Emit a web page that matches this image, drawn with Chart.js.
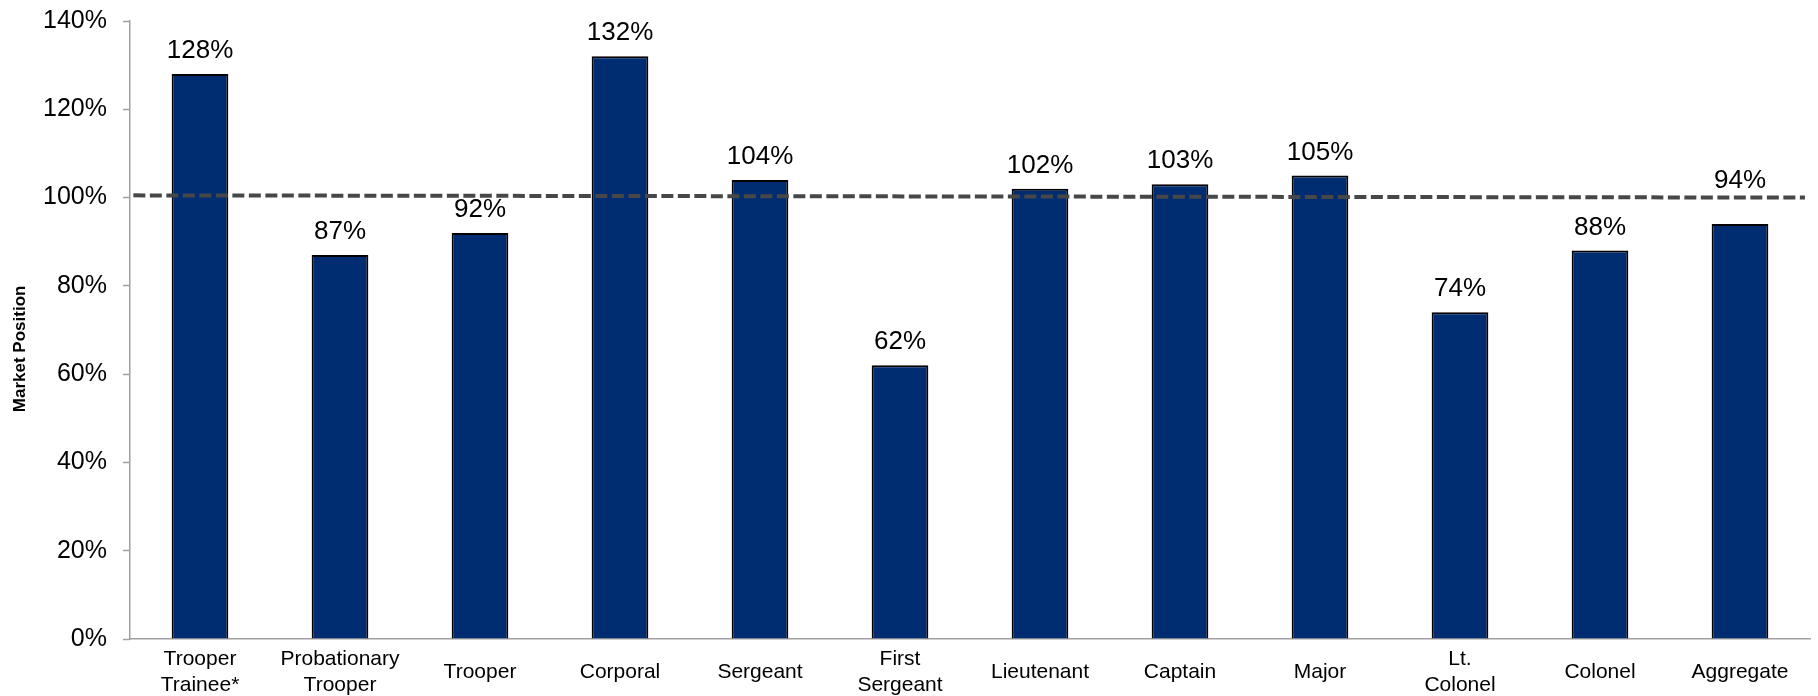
<!DOCTYPE html>
<html>
<head>
<meta charset="utf-8">
<script src="https://cdn.jsdelivr.net/npm/chart.js@4.4.0/dist/chart.umd.min.js"></script>
<style>
  html, body { margin: 0; padding: 0; background: #fff; }
  #wrap { width: 1818px; height: 696px; }
</style>
</head>
<body>
<div id="wrap"><canvas id="chart" width="1818" height="696"></canvas></div>
<script>
// data
const categories = [
    ['Trooper', 'Trainee*'], ['Probationary', 'Trooper'], 'Trooper', 'Corporal', 'Sergeant',
    ['First', 'Sergeant'], 'Lieutenant', 'Captain', 'Major', ['Lt.', 'Colonel'], 'Colonel', 'Aggregate'
];
const marketPosition = [128, 87, 92, 132, 104, 62, 102, 103, 105, 74, 88, 94];
// dashed reference line (runs slightly downhill in the original)
const referenceLine = [{ x: 0.002, y: 100.5 }, { x: 0.997, y: 100 }];
const yTicks = [0, 20, 40, 60, 80, 100, 120, 140];

const FONT = '"Liberation Sans", Arial, Helvetica, sans-serif';

// small plugin to write the values above the bars
const valueLabels = {
    id: 'valueLabels',
    afterDatasetsDraw(chart) {
        const ctx = chart.ctx;
        const meta = chart.getDatasetMeta(1);
        ctx.save();
        ctx.font = '26px ' + FONT;
        ctx.fillStyle = '#000';
        ctx.textAlign = 'center';
        ctx.textBaseline = 'alphabetic';
        meta.data.forEach((bar, i) => {
            // the last label sits higher so it clears the dashed line
            const lift = i === marketPosition.length - 1 ? 36 : 16;
            ctx.fillText(marketPosition[i] + '%', bar.x, bar.y - lift);
        });
        ctx.restore();
    }
};

new Chart(document.getElementById('chart'), {
    type: 'bar',
    data: {
        labels: categories,
        datasets: [{
            type: 'line',
            data: referenceLine,
            xAxisID: 'x2',
            borderColor: '#474747',
            borderWidth: 4,
            borderDash: [12, 4.5],
            pointRadius: 0,
            fill: false,
            order: 0
        }, {
            type: 'bar',
            data: marketPosition,
            xAxisID: 'x',
            backgroundColor: '#002D72',
            borderColor: '#000',
            borderWidth: 2,
            grouped: false,
            barPercentage: 0.405,
            categoryPercentage: 1,
            order: 1
        }]
    },
    plugins: [valueLabels],
    options: {
        responsive: false,
        animation: false,
        layout: { padding: { left: 0, right: 8, top: 21, bottom: 0 } },
        plugins: {
            legend: { display: false },
            tooltip: { enabled: false }
        },
        scales: {
            x: {
                type: 'category',
                grid: { display: false, drawTicks: false, tickLength: 0 },
                border: { display: true, color: '#a0a0a0', width: 1.5 },
                ticks: {
                    color: '#000',
                    font: { family: FONT, size: 21, lineHeight: 1.24 },
                    padding: 20,
                    maxRotation: 0,
                    autoSkip: false,
                    crossAlign: 'center'
                },
                afterFit(scale) { scale.height = 57; }
            },
            x2: {
                type: 'linear',
                display: false,
                offset: false,
                min: 0,
                max: 1
            },
            y: {
                min: 0,
                max: 140,
                afterBuildTicks(scale) { scale.ticks = yTicks.map(v => ({ value: v })); },
                grid: {
                    display: true,
                    drawOnChartArea: false,
                    drawTicks: true,
                    tickLength: 7,
                    color: '#a0a0a0',
                    tickWidth: 1.5
                },
                border: { display: true, color: '#a0a0a0', width: 1.5 },
                ticks: {
                    color: '#000',
                    font: { family: FONT, size: 25 },
                    padding: 16,
                    callback: v => v + '%'
                },
                title: {
                    display: true,
                    // trailing spaces nudge the title a little lower, as in the original
                    text: 'Market Position        ',
                    color: '#000',
                    font: { family: FONT, size: 17, weight: 'bold' },
                    padding: { top: 10, bottom: 4 }
                },
                afterFit(scale) {
                    scale.width = 130;
                    scale.paddingTop = 0;
                    scale.paddingBottom = 0;
                }
            }
        }
    }
});
</script>
</body>
</html>
